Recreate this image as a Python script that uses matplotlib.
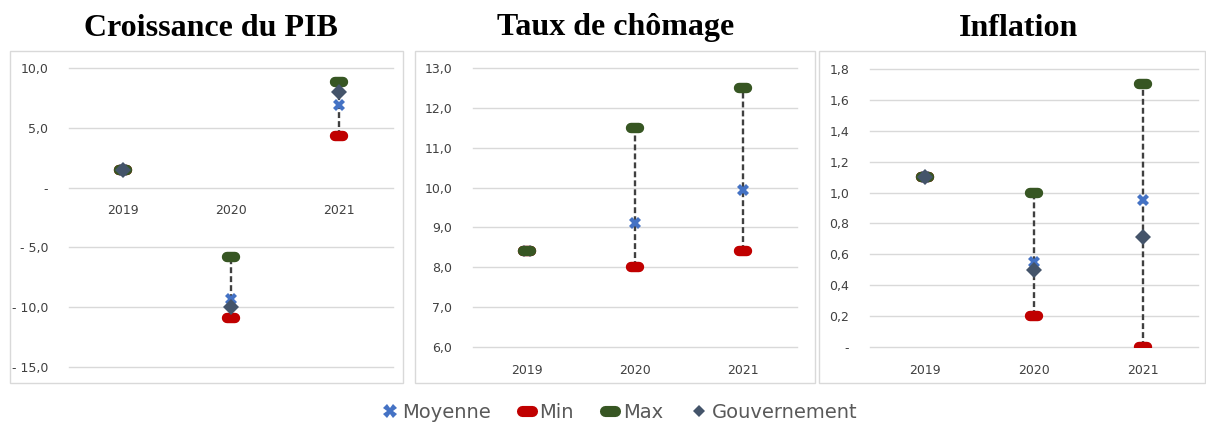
import numpy as np
import matplotlib
matplotlib.use("Agg")
import matplotlib.pyplot as plt
from matplotlib.markers import MarkerStyle
from matplotlib.lines import Line2D
from matplotlib.patches import Rectangle

# Donnees
annees = ["2019", "2020", "2021"]

titres = ["Croissance du PIB", "Taux de chômage", "Inflation"]

pib_moyenne = [1.5, -9.3, 6.9]
pib_min = [1.5, -10.9, 4.3]
pib_max = [1.5, -5.8, 8.8]
pib_gouv = [1.5, -10.0, 8.0]

chom_moyenne = [8.4, 9.1, 9.95]
chom_min = [8.4, 8.0, 8.4]
chom_max = [8.4, 11.5, 12.5]
chom_gouv = [np.nan, np.nan, np.nan]

inf_moyenne = [1.1, 0.55, 0.95]
inf_min = [1.1, 0.2, 0.0]
inf_max = [1.1, 1.0, 1.7]
inf_gouv = [1.1, 0.5, 0.71]

pib_ticks = [-15, -10, -5, 0, 5, 10]
chom_ticks = [6, 7, 8, 9, 10, 11, 12, 13]
inf_ticks = [0, 0.2, 0.4, 0.6, 0.8, 1.0, 1.2, 1.4, 1.6, 1.8]

c_moy = "#4472C4"
c_min = "#C00000"
c_max = "#375623"
c_gouv = "#44546A"
c_grid = "#D9D9D9"
c_txt = "#404040"

barre = MarkerStyle("_", capstyle="round")


def fmt(v):
    if abs(v) < 1e-9:
        return "-"
    s = f"{abs(v):.1f}".replace(".", ",")
    return "- " + s if v < 0 else s


W, H = 1206, 423
fig = plt.figure(figsize=(W / 100, H / 100), dpi=100)

# positions en pixels: (gauche, droite, haut, bas) des zones de trace
zones = [(69, 393, 68, 367), (473, 797, 68, 347), (870, 1198, 69, 347)]
cadres = [(10, 403, 51, 383), (415, 815, 51, 383), (819, 1205, 51, 383)]
titre_x = [211, 616, 1018]

series = [
    (pib_moyenne, pib_min, pib_max, pib_gouv, pib_ticks),
    (chom_moyenne, chom_min, chom_max, chom_gouv, chom_ticks),
    (inf_moyenne, inf_min, inf_max, inf_gouv, inf_ticks),
]

x = np.arange(len(annees))

for i, (moy, mn, mx, gv, ticks) in enumerate(series):
    l, r, t, b = zones[i]
    ax = fig.add_axes([l / W, 1 - b / H, (r - l) / W, (b - t) / H])

    cl, cr, ct, cb = cadres[i]
    fig.add_artist(Rectangle((cl / W, 1 - cb / H), (cr - cl) / W, (cb - ct) / H,
                             transform=fig.transFigure, fill=False,
                             edgecolor=c_grid, linewidth=1))
    fig.text(titre_x[i] / W, 1 - 28 / H, titres[i], ha="center", va="center",
             fontsize=23, fontweight="bold", family="Liberation Serif")

    ax.vlines(x, mn, mx, colors="#404040", linestyles=(0, (2.5, 1.3)),
              linewidth=1.7, zorder=2)
    ax.plot(x, moy, linestyle="none", marker="X", ms=9, color=c_moy, mew=0, zorder=3)
    ax.plot(x, mn, linestyle="none", marker=barre, ms=6, mew=7.5, color=c_min, zorder=4)
    ax.plot(x, mx, linestyle="none", marker=barre, ms=6, mew=7.5, color=c_max, zorder=5)
    ax.plot(x, gv, linestyle="none", marker="D", ms=8.5, color=c_gouv, mew=0, zorder=6)

    ax.set_xlim(-0.5, 2.5)
    ax.set_ylim(ticks[0], ticks[-1])
    ax.set_yticks(ticks)
    ax.set_yticklabels([fmt(v) for v in ticks])
    ax.set_xticks(x)
    ax.set_xticklabels(annees)
    ax.grid(axis="y", color=c_grid, linewidth=1)
    for gl in ax.get_ygridlines():
        gl.set_clip_on(False)
    ax.set_axisbelow(True)
    for s in ax.spines.values():
        s.set_visible(False)
    if ticks[0] < 0:
        ax.spines["bottom"].set_position(("data", 0))
    ax.tick_params(length=0, labelsize=9, labelcolor=c_txt)
    ax.tick_params(axis="y", pad=15)
    ax.tick_params(axis="x", pad=12)

poignees = [
    Line2D([], [], linestyle="none", marker="X", ms=10, color=c_moy, mew=0),
    Line2D([], [], linestyle="none", marker=barre, ms=7, mew=8, color=c_min),
    Line2D([], [], linestyle="none", marker=barre, ms=7, mew=8, color=c_max),
    Line2D([], [], linestyle="none", marker="D", ms=6.5, color=c_gouv, mew=0),
]
fig.legend(poignees, ["Moyenne", "Min", "Max", "Gouvernement"], ncol=4,
           loc="center", bbox_to_anchor=(618 / W, 1 - 412 / H), frameon=False,
           fontsize=14, labelcolor="#595959", handlelength=1.1,
           handletextpad=0.1, columnspacing=1.3)

fig.savefig("out.png", dpi=100)
